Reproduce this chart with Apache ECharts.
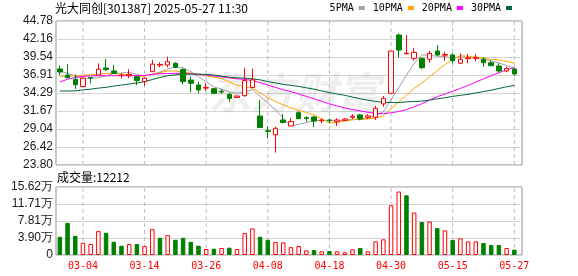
<!DOCTYPE html>
<html><head><meta charset="utf-8">
<script src="https://cdn.jsdelivr.net/npm/echarts@6/dist/echarts.min.js"></script>
<style>html,body{margin:0;padding:0;background:#fff}#c{width:578px;height:276px}</style>
</head><body><div id="c"></div>
<script>
const titleText = '光大同创[301387] 2025-05-27 11:30';
const volTitleText = '成交量:12212';
const dates = ['02-27','02-28','03-03','03-04','03-05','03-06','03-07','03-10','03-11','03-12',
 '03-13','03-14','03-17','03-18','03-19','03-20','03-21','03-24','03-25','03-26',
 '03-27','03-28','03-31','04-01','04-02','04-03','04-07','04-08','04-09','04-10',
 '04-11','04-14','04-15','04-16','04-17','04-18','04-21','04-22','04-23','04-24',
 '04-25','04-28','04-29','04-30','05-06','05-07','05-08','05-09','05-12','05-13',
 '05-14','05-15','05-16','05-19','05-20','05-21','05-22','05-23','05-26','05-27'];
const openP = [37.80,36.91,36.30,35.25,36.55,36.90,37.93,37.50,36.85,36.80,
 36.67,35.95,37.40,38.35,38.37,38.62,37.70,36.18,35.46,35.00,
 34.92,34.55,34.10,33.65,33.90,35.10,30.94,28.80,28.20,30.35,
 29.50,31.42,30.70,30.80,30.25,30.35,30.10,30.30,30.75,31.10,
 30.75,30.75,32.70,34.25,42.74,40.00,39.35,39.35,39.20,40.41,
 39.80,39.83,38.62,39.30,39.35,39.20,38.70,38.22,37.50,37.79];
const closeP = [37.35,36.52,35.50,36.45,36.47,37.75,37.70,37.15,36.90,37.00,
 36.10,36.45,38.50,38.45,38.85,38.03,35.95,35.70,34.73,35.10,
 34.25,34.45,33.50,33.85,36.10,36.20,29.25,28.70,29.15,30.00,
 30.15,30.55,30.60,30.20,30.35,30.25,30.35,30.50,30.90,30.50,
 30.95,32.06,33.50,40.40,40.55,40.10,40.22,37.98,40.07,39.83,
 39.90,39.00,39.20,39.40,39.45,38.70,38.27,37.50,37.85,37.06];
const lowP = [36.90,36.45,34.90,35.10,35.70,36.85,37.50,37.10,36.40,36.43,
 35.45,35.35,37.35,38.03,38.03,37.90,35.55,34.40,34.25,34.60,
 34.10,34.15,33.00,33.60,33.75,35.00,29.20,27.69,25.60,29.87,
 29.50,30.50,30.10,29.30,29.90,29.90,29.50,30.20,30.50,30.30,
 30.50,30.35,32.30,34.20,39.43,39.93,39.00,37.79,38.70,39.70,
 39.00,38.62,38.50,38.62,38.90,38.10,38.20,37.30,37.30,36.80];
const highP = [38.30,38.50,37.00,36.50,36.60,38.60,39.24,38.37,37.15,37.75,
 36.70,36.50,39.10,38.76,39.58,38.76,37.90,36.67,35.94,35.70,
 35.00,34.83,34.25,33.90,37.90,37.83,33.30,29.38,29.38,31.23,
 30.60,31.60,30.90,30.90,30.60,30.55,30.60,30.65,31.20,31.25,
 31.20,32.40,33.85,40.40,42.99,42.74,40.80,39.40,40.41,41.28,
 40.31,40.07,40.07,39.93,39.93,39.50,39.00,38.60,38.12,37.90];
const volume = [41900,73900,44100,28100,25200,54900,51000,30400,21300,25200,
 25200,20600,59500,39600,45700,35000,39600,30400,21300,13700,
 14400,16000,16700,13700,50300,61000,41900,35000,29700,29000,
 18000,20600,10700,11400,8500,9100,8500,6200,13000,16000,
 8500,31300,35900,114300,145700,137200,97600,75500,77000,61700,
 56500,34300,38200,31300,31300,27400,22900,22900,16000,12212];
const ma5 = [37.50,37.15,36.75,36.45,36.40,36.52,36.80,37.12,37.22,37.28,
 37.00,36.75,37.00,37.35,37.75,38.10,37.96,37.40,36.68,35.92,
 35.17,34.86,34.42,34.24,34.43,34.80,33.80,32.82,31.85,30.60,
 29.50,29.72,30.00,30.20,30.30,30.32,30.30,30.30,30.45,30.50,
 30.64,30.98,31.55,33.30,35.10,36.90,38.60,39.85,39.78,39.64,
 39.60,39.36,39.55,39.45,39.38,39.15,39.00,38.66,38.30,37.85];
const ma10 = [36.67,36.75,36.80,36.88,36.95,37.05,37.12,37.10,37.05,36.95,
 36.78,36.75,37.05,37.25,37.49,37.51,37.34,37.19,36.98,36.79,
 36.60,36.40,35.90,35.44,35.17,34.98,34.31,33.61,33.06,32.55,
 32.14,31.75,31.46,31.09,30.52,29.92,30.03,30.21,30.39,30.44,
 30.52,30.67,30.96,31.98,33.00,33.98,34.97,35.72,36.63,37.57,
 38.46,39.16,39.73,39.63,39.52,39.38,39.18,39.13,38.91,38.63];
const ma20 = [35.90,36.30,36.55,36.72,36.78,36.80,36.80,36.80,36.80,36.80,
 36.82,36.85,37.00,37.10,37.12,37.16,37.15,37.10,37.00,36.90,
 36.77,36.63,36.50,36.37,36.27,36.12,35.80,35.45,35.10,34.78,
 34.48,34.15,33.80,33.45,33.07,32.70,32.40,32.12,31.88,31.67,
 31.48,31.33,31.28,31.40,31.60,31.85,32.28,32.73,33.25,33.75,
 34.15,34.55,34.95,35.40,35.88,36.35,36.83,37.25,37.65,38.05];
const ma30 = [34.58,34.58,34.60,34.75,34.85,35.00,35.12,35.30,35.45,35.60,
 35.75,35.95,36.25,36.55,36.80,36.95,37.02,37.05,37.05,37.00,
 36.90,36.75,36.60,36.50,36.45,36.35,36.20,35.95,35.75,35.55,
 35.40,35.25,35.05,34.85,34.60,34.35,34.15,33.95,33.70,33.45,
 33.25,33.05,32.95,32.90,32.90,33.00,33.05,33.10,33.25,33.45,
 33.60,33.80,33.95,34.10,34.30,34.50,34.70,34.95,35.20,35.40];
const xTickDates = ['03-04','03-14','03-26','04-08','04-18','04-30','05-15','05-27'];
const priceTicks = ['23.80','26.42','29.04','31.67','34.29','36.91','39.54','42.16','44.78'];
const volTicks = ['0','3.90万','7.81万','11.71万','15.62万'];
const maNames = ['5PMA','10PMA','20PMA','30PMA'];

const priceMin = parseFloat(priceTicks[0]);
const priceMax = parseFloat(priceTicks[priceTicks.length - 1]);
const priceStep = (priceMax - priceMin) / (priceTicks.length - 1);
const volMax = 156200;
const volStep = volMax / (volTicks.length - 1);
const tickIdx = xTickDates.map(d => dates.indexOf(d));
const n = dates.length;

const UP = '#ff0000', DOWN = '#008000';
const candleData = dates.map((d, i) => [i, openP[i], closeP[i], lowP[i], highP[i]]);
const volData = dates.map((d, i) => {
  const up = i === 0 ? closeP[i] >= openP[i] : closeP[i] >= closeP[i - 1];
  return {
    value: [i, volume[i]],
    itemStyle: up ? {color: '#ffffff', borderColor: UP, borderWidth: 1}
                  : {color: DOWN, borderColor: DOWN, borderWidth: 1}
  };
});
const maColors = ['#a0a0a0', '#ffa500', '#ff00ff', '#006633'];
const maSeries = [ma5, ma10, ma20, ma30].map((arr, k) => ({
  name: maNames[k], type: 'line', xAxisIndex: 0, yAxisIndex: 0,
  data: arr.map((v, i) => [i, v]), symbol: 'none', showSymbol: false,
  lineStyle: {width: 1, color: maColors[k]}, itemStyle: {color: maColors[k]},
  emphasis: {disabled: true}, z: 3
}));

// vertical dashed guide lines at the labelled dates: one two-point line series each
const guideSeries = [];
[[0, priceMin, priceMax], [1, 0, volMax]].forEach(([g, lo, hi]) => {
  tickIdx.forEach(idx => {
    guideSeries.push({
      type: 'line', xAxisIndex: g, yAxisIndex: g, z: 1, silent: true,
      data: [[idx, lo], [idx, hi]], symbol: 'none', showSymbol: false,
      lineStyle: {color: '#bdbdbd', width: 1, type: [4, 3]},
      itemStyle: {color: '#bdbdbd'}, emphasis: {disabled: true}, tooltip: {show: false}
    });
  });
});

const gridLine = {lineStyle: {color: '#d4d4d4', width: 1}};
const labelFont = {fontFamily: '"Liberation Sans", Arial, sans-serif', fontSize: 12, color: '#1a1a1a'};

const chart = echarts.init(document.getElementById('c'), null, {renderer: 'canvas'});
chart.setOption({
  animation: false,
  backgroundColor: '#ffffff',
  title: [
    {text: titleText, left: 55, top: 2, padding: 0,
     textStyle: {fontSize: 12, fontWeight: 'normal', color: '#000', fontFamily: '"Noto Sans CJK SC", sans-serif'}},
    {text: volTitleText, left: 57, top: 171, padding: 0,
     textStyle: {fontSize: 12, fontWeight: 'normal', color: '#000', fontFamily: '"Noto Sans CJK SC", sans-serif'}}
  ],
  legend: {
    data: maNames, right: 66, top: 3, padding: 0, align: 'right', icon: 'rect',
    itemWidth: 6, itemHeight: 4, itemGap: 8, selectedMode: false,
    textStyle: {fontFamily: '"DejaVu Sans Mono", monospace', fontSize: 10, color: '#000'}
  },
  graphic: [{
    type: 'text', x: 294, y: 93, z: 1, silent: true,
    style: {text: '东方财富', align: 'center', verticalAlign: 'middle',
      font: 'italic bold 43px "Noto Sans CJK SC"', fill: 'rgba(150,150,150,0.16)'}
  }],
  grid: [
    {left: 56, right: 56, top: 21, height: 144, show: true, borderColor: '#909090', borderWidth: 1, outerBoundsMode: 'none', containLabel: false},
    {left: 56, right: 56, top: 187, height: 68, show: true, borderColor: '#909090', borderWidth: 1, outerBoundsMode: 'none', containLabel: false}
  ],
  xAxis: [
    {type: 'value', gridIndex: 0, min: -0.5, max: n, axisLine: {show: false},
     axisTick: {show: false}, axisLabel: {show: false}, splitLine: {show: false}},
    {type: 'value', gridIndex: 1, min: -0.5, max: n, axisLine: {show: false},
     axisTick: {show: false, customValues: tickIdx},
     axisLabel: {show: true, customValues: tickIdx, margin: 6, color: '#ff0000',
       fontFamily: '"DejaVu Sans Mono", monospace', fontSize: 10,
       formatter: v => dates[Math.round(v)] || ''},
     splitLine: {show: false}}
  ],
  yAxis: [
    {type: 'value', gridIndex: 0, min: priceMin, max: priceMax, interval: priceStep,
     axisLine: {show: false}, axisTick: {show: false}, splitLine: gridLine,
     axisLabel: Object.assign({margin: 3, showMinLabel: true, showMaxLabel: true,
       formatter: v => priceTicks[Math.round((v - priceMin) / priceStep)] || ''}, labelFont)},
    {type: 'value', gridIndex: 1, min: 0, max: volMax, interval: volStep,
     axisLine: {show: false}, axisTick: {show: false}, splitLine: gridLine,
     axisLabel: Object.assign({margin: 3, showMinLabel: true, showMaxLabel: true,
       formatter: v => volTicks[Math.round(v / volStep)] || ''}, labelFont)}
  ],
  series: [
    ...guideSeries,
    {type: 'candlestick', xAxisIndex: 0, yAxisIndex: 0, data: candleData, barWidth: 5, z: 4,
     itemStyle: {color: '#ffffff', color0: DOWN, borderColor: UP, borderColor0: DOWN, borderWidth: 1},
     emphasis: {disabled: true}},
    ...maSeries,
    {type: 'bar', xAxisIndex: 1, yAxisIndex: 1, data: volData, barWidth: 4.5, z: 4,
     emphasis: {disabled: true}}
  ]
});
</script>
</body></html>
